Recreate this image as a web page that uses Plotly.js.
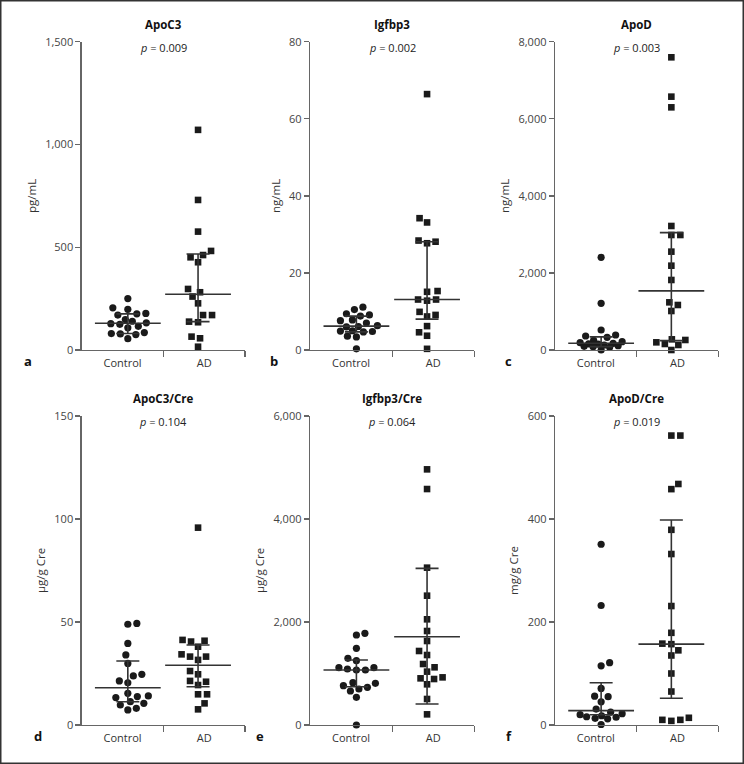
<!DOCTYPE html>
<html>
<head>
<meta charset="utf-8">
<script src="https://cdn.plot.ly/plotly-3.0.1.min.js"></script>
<style>
  html, body { margin: 0; padding: 0; background: #fff; }
  #chart { width: 744px; height: 764px; }
</style>
</head>
<body>
<div id="chart"></div>
<script>
// ---------- data ----------
const groups = ['Control', 'AD'];
const panelTitles = ['ApoC3', 'Igfbp3', 'ApoD', 'ApoC3/Cre', 'Igfbp3/Cre', 'ApoD/Cre'];
const pValues = ['0.009', '0.002', '0.003', '0.104', '0.064', '0.019'];
const yTitles = ['pg/mL', 'ng/mL', 'ng/mL', 'µg/g Cre', 'µg/g Cre', 'mg/g Cre'];
const panelLetters = ['a', 'b', 'c', 'd', 'e', 'f'];
const yMax = [1500, 80, 8000, 150, 6000, 600];
const yStep = [500, 20, 2000, 50, 2000, 200];

const apoc3Control = [250, 205, 198, 178, 176, 170, 148, 140, 132, 128, 125, 115, 108, 85, 80, 78, 75, 55];
const apoc3AD = [1071, 730, 576, 482, 462, 451, 427, 297, 281, 260, 227, 170, 170, 138, 135, 65, 57, 16];
const igfbp3Control = [11.1, 10.5, 9.4, 9.1, 8.8, 7.8, 7.6, 7.0, 6.3, 6.1, 6.0, 5.0, 4.9, 4.8, 4.7, 3.6, 3.4, 0.3];
const igfbp3AD = [66.4, 34.2, 33.1, 28.4, 28.1, 27.7, 15.3, 15.1, 13.1, 13.1, 12.8, 9.9, 9.1, 8.7, 6.2, 4.6, 3.7, 0.3];
const apodControl = [2405, 1211, 519, 389, 363, 330, 250, 215, 190, 170, 160, 150, 130, 110, 95, 85, 70, 0];
const apodAD = [7595, 6574, 6297, 3218, 2984, 2984, 2552, 2188, 1817, 1237, 1168, 1012, 277, 260, 199, 156, 130, 0];
const apoc3CreControl = [49.3, 48.9, 39.6, 34.0, 29.9, 24.6, 23.8, 21.4, 20.5, 15.4, 14.1, 13.8, 13.3, 11.3, 10.5, 9.7, 8.1, 7.3];
const apoc3CreAD = [95.8, 41.3, 40.9, 40.5, 38.0, 34.3, 33.2, 33.2, 31.6, 26.2, 24.6, 21.4, 21.0, 19.4, 14.9, 14.9, 10.5, 7.6];
const igfbp3CreControl = [1780, 1748, 1489, 1294, 1249, 1113, 1113, 1087, 1068, 1068, 822, 809, 764, 731, 699, 660, 537, 0];
const igfbp3CreAD = [4964, 4582, 3055, 2511, 2052, 1825, 1631, 1437, 1359, 1184, 1120, 1036, 925, 906, 893, 790, 505, 207];
const apodCreControl = [351, 232, 121, 115, 71, 56, 55, 45, 31, 25, 22, 20, 18, 16, 15, 13, 12, 1];
const apodCreAD = [562, 562, 468, 458, 379, 332, 231, 179, 158, 157, 145, 135, 100, 65, 14, 10, 10, 8];

// medians and interquartile ranges as drawn
const medianControl = [130, 6.2, 175, 18.1, 1068, 28];
const q1Control = [80, 4.7, 87, 11.3, 744, 20];
const q3Control = [176, 8.8, 340, 31.1, 1262, 82];
const medianAD = [271, 13.1, 1535, 29.0, 1715, 157];
const q1AD = [138, 8.0, 242, 18.6, 408, 52];
const q3AD = [467, 28.1, 3045, 38.8, 3042, 398];

const controlSeries = [apoc3Control, igfbp3Control, apodControl, apoc3CreControl, igfbp3CreControl, apodCreControl];
const adSeries = [apoc3AD, igfbp3AD, apodAD, apoc3CreAD, igfbp3CreAD, apodCreAD];

// ---------- layout geometry ----------
const W = 744, H = 764;
const colPx = [[81.7, 245], [310, 474.3], [555, 718.3]];
const rowPx = [[41.7, 350], [416, 725]];
const groupPos = [0.565, 1.425];        // x positions of the two columns of points (axis range 0..2)
const letterPx = [[28, 361], [274, 361], [509, 361], [38, 736], [260, 736], [509, 736]];
const titleY = [25, 398.5];
const pY = [47, 421.5];

const ink = '#1a1a1a';
const lineCol = '#333';
const axisCol = '#666';
const FONT = 'Open Sans, Noto Sans, sans-serif';

// simple beeswarm: spread points sideways (in pixels); never wider than maxOff,
// allowing overlap in dense clusters like the original figure
function swarm(values, yPxPerUnit, D, maxOff) {
  const idx = values.map((v, i) => i).sort((a, b) => values[a] - values[b]);
  const placed = [];
  const off = new Array(values.length).fill(0);
  idx.forEach((i, n) => {
    const y = values[i] * yPxPerUnit;
    let chosen = null, bestX = 0, bestD = -1;
    for (let k = 0; k <= maxOff * 2 && chosen === null; k++) {
      const cands = k === 0 ? [0] : (n % 2 ? [k * 0.5, -k * 0.5] : [-k * 0.5, k * 0.5]);
      for (const x of cands) {
        let minD = Infinity;
        for (const p of placed) {
          const dx = p.x - x, dy = p.y - y;
          minD = Math.min(minD, Math.sqrt(dx * dx + dy * dy));
        }
        if (minD >= D) { chosen = x; break; }
        if (minD > bestD + 0.01) { bestD = minD; bestX = x; }
      }
    }
    if (chosen === null) chosen = bestX;
    placed.push({ x: chosen, y: y });
    off[i] = chosen;
  });
  return off;
}

const traces = [];
const layout = {
  width: W, height: H,
  margin: { l: 0, r: 0, t: 0, b: 0 },
  paper_bgcolor: '#fff', plot_bgcolor: '#fff',
  showlegend: false,
  font: { family: FONT, color: '#333', size: 11 },
  annotations: [],
  shapes: [{
    type: 'rect', xref: 'paper', yref: 'paper', x0: 0, x1: 1, y0: 0, y1: 1,
    line: { color: '#333', width: 3 }, layer: 'above'
  }]
};

for (let p = 0; p < 6; p++) {
  const r = Math.floor(p / 3), c = p % 3;
  const xs = p === 0 ? '' : String(p + 1);
  const xa = 'x' + xs, ya = 'y' + xs;
  const xd = [colPx[c][0] / W, colPx[c][1] / W];
  const yd = [(H - rowPx[r][1]) / H, (H - rowPx[r][0]) / H];
  const plotH = rowPx[r][1] - rowPx[r][0];
  const plotW = colPx[c][1] - colPx[c][0];
  const yPxPerUnit = plotH / yMax[p];
  const xPxPerUnit = plotW / 2;

  const series = [controlSeries[p], adSeries[p]];
  const meds = [medianControl[p], medianAD[p]];
  const q1s = [q1Control[p], q1AD[p]];
  const q3s = [q3Control[p], q3AD[p]];

  series.forEach((vals, g) => {
    const offs = swarm(vals, yPxPerUnit, 8.6, 21);
    traces.push({
      type: 'scatter', mode: 'markers', xaxis: xa, yaxis: ya,
      x: vals.map((v, i) => groupPos[g] + offs[i] / xPxPerUnit),
      y: vals,
      cliponaxis: false,
      marker: g === 0
        ? { symbol: 'circle', size: 7.2, color: ink, line: { width: 0 } }
        : { symbol: 'square', size: 6.6, color: ink, line: { width: 0 } },
      hoverinfo: 'y'
    });
  });
  // median line + interquartile range
  series.forEach((vals, g) => {
    traces.push({
      type: 'scatter', mode: 'markers', xaxis: xa, yaxis: ya,
      x: [groupPos[g]], y: [meds[g]],
      cliponaxis: false,
      marker: { symbol: 'line-ew', size: 47, color: lineCol, line: { width: 1.6, color: lineCol } },
      error_y: {
        type: 'data', symmetric: false,
        array: [q3s[g] - meds[g]], arrayminus: [meds[g] - q1s[g]],
        width: 11.5, thickness: 1.6, color: lineCol
      },
      hoverinfo: 'skip'
    });
  });

  layout['xaxis' + xs] = {
    domain: xd, anchor: ya, range: [0, 2], fixedrange: true,
    tickmode: 'array', tickvals: [0.5, 1.5], ticktext: groups,
    ticks: '', showgrid: false, zeroline: false,
    showline: true, linecolor: axisCol, linewidth: 1.3,
    tickfont: { family: FONT, size: 11, color: '#333' },
    ticklabelstandoff: 2,
    minor: { tickmode: 'array', tickvals: [1, 2], ticks: 'outside', ticklen: 6, tickwidth: 1.3, tickcolor: axisCol, showgrid: false }
  };
  layout['yaxis' + xs] = {
    domain: yd, anchor: xa, range: [0, yMax[p]], fixedrange: true,
    tick0: 0, dtick: yStep[p], tickformat: ',d',
    ticks: 'outside', ticklen: 5, tickwidth: 1.3, tickcolor: axisCol,
    showgrid: false, zeroline: false,
    showline: true, linecolor: axisCol, linewidth: 1.3,
    tickfont: { family: FONT, size: 11, color: '#444' },
    title: { text: yTitles[p], standoff: 6, font: { family: FONT, size: 11.5, color: '#333' } }
  };

  const cx = (xd[0] + xd[1]) / 2;
  layout.annotations.push({
    xref: 'paper', yref: 'paper', x: cx, y: (H - titleY[r]) / H,
    xanchor: 'center', yanchor: 'middle', showarrow: false,
    text: '<b>' + panelTitles[p] + '</b>',
    font: { family: FONT, size: 11.5, color: '#111' }
  });
  layout.annotations.push({
    xref: 'paper', yref: 'paper', x: cx, y: (H - pY[r]) / H,
    xanchor: 'center', yanchor: 'middle', showarrow: false,
    text: '<i>p</i> = ' + pValues[p],
    font: { family: FONT, size: 11, color: '#222' }
  });
  layout.annotations.push({
    xref: 'paper', yref: 'paper', x: letterPx[p][0] / W, y: (H - letterPx[p][1]) / H,
    xanchor: 'center', yanchor: 'middle', showarrow: false,
    text: '<b>' + panelLetters[p] + '</b>',
    font: { family: FONT, size: 13, color: '#111' }
  });
}

Plotly.newPlot('chart', traces, layout, { staticPlot: true, displayModeBar: false });
</script>
</body>
</html>
